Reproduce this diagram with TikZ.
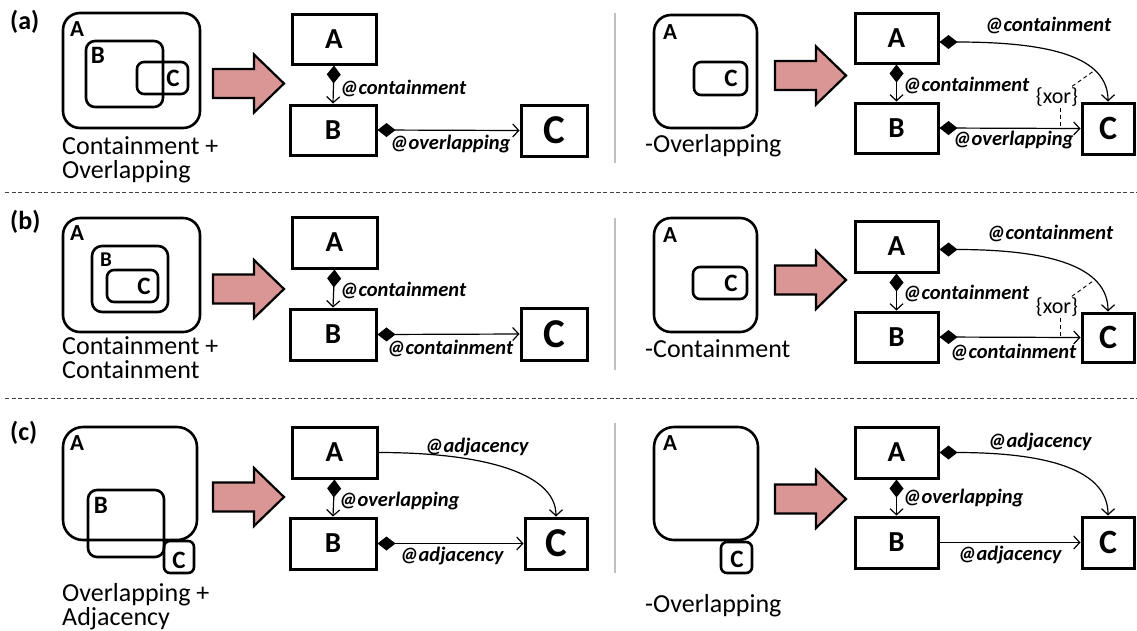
\documentclass[tikz,border=0pt]{standalone}
\usepackage{fontspec}
\setmainfont{Carlito}
\usetikzlibrary{arrows.meta}
\definecolor{pinkfill}{RGB}{217,150,148}
\newcommand{\pinkarrow}[2]{%
  \draw[line width=2.2pt, fill=pinkfill, line join=miter]
    (#1,#2-14.5) -- (#1+41,#2-14.5) -- (#1+41,#2-29) -- (#1+71,#2)
    -- (#1+41,#2+29) -- (#1+41,#2+14.5) -- (#1,#2+14.5) -- cycle;}
\tikzset{
  cont/.style={draw, line width=2.6pt},
  cletA/.style={font=\bfseries\fontsize{23}{23}\selectfont, inner sep=0},
  clet/.style={font=\bfseries\fontsize{25}{25}\selectfont, inner sep=0},
  cletS/.style={font=\bfseries\fontsize{21}{21}\selectfont, inner sep=0},
  box/.style={draw, line width=3pt, inner sep=0, font=\bfseries\fontsize{29}{29}\selectfont},
  bigC/.style={font=\bfseries\fontsize{41}{41}\selectfont},
  midC/.style={font=\bfseries\fontsize{34}{34}\selectfont},
  elab/.style={font=\bfseries\itshape\fontsize{20.5}{20.5}\selectfont, anchor=west, inner sep=0},
  capt/.style={font=\fontsize{26}{24}\selectfont, align=left, anchor=north west, inner sep=0},
  tag/.style={font=\bfseries\fontsize{26}{26}\selectfont, anchor=north west, inner sep=0},
  xorlab/.style={font=\fontsize{22}{22}\selectfont, inner sep=1pt},
  dia/.style={line width=1.2pt, {Diamond[length=18pt,width=14pt]}-{Straight Barb[length=6pt,width=13pt]}},
  plain/.style={line width=1.2pt, -{Straight Barb[length=6pt,width=13pt]}},
  sep/.style={line width=1pt, draw=black!75, dash pattern=on 4pt off 2.5pt},
  vsep/.style={line width=1.5pt, draw=black!25},
  xordash/.style={line width=0.9pt, dash pattern=on 4pt off 3pt}
}
\begin{document}
\begin{tikzpicture}[x=1pt,y=-1pt]
\useasboundingbox (0,0) rectangle (1137,630);

% separators
\draw[sep] (5,192) -- (1137,192);
\draw[sep] (5,398) -- (1137,398);
\draw[vsep] (615,13) -- (615,163);
\draw[vsep] (615,218) -- (615,370);
\draw[vsep] (615,423) -- (615,573);

% tags
\node[tag] (ta) at (10,10) {(a)};
\node[tag] (tb) at (10,210) {(b)};
\node[tag] (tc) at (10,421) {(c)};

%%%%%%%%%%%%%%%% ROW A %%%%%%%%%%%%%%%%
\draw[cont, rounded corners=17pt] (63,13) rectangle (200,128);
\draw[cont, rounded corners=9pt] (86,41) rectangle (163,107);
\draw[cont, rounded corners=7pt] (137,62) rectangle (188,94);
\node[cletA] (laA) at (77,29) {A};
\node[clet] (laB) at (98,55) {B};
\node[clet] (laC) at (173,78) {C};
\node[capt] (capa) at (62,136) {Containment +\\Overlapping};
\pinkarrow{213}{83.5}

\node[box, minimum width=84pt, minimum height=50pt] (a1A) at (334,39) {A};
\node[box, minimum width=86pt, minimum height=50pt] (a1B) at (333,130) {B};
\node[box, bigC, minimum width=66pt, minimum height=51pt] (a1C) at (554,130.5) {C};
\draw[dia] (a1A.south) -- (a1B.north);
\draw[dia] (a1B.east) -- (a1C.west);
\node[elab] (a1l1) at (340,88) {@containment};
\node[elab] (a1l2) at (390,144) {@overlapping};

\draw[cont, rounded corners=17pt] (654,15) rectangle (757,128);
\draw[cont, rounded corners=7pt] (694,62) rectangle (747,95);
\node[cletA] (raA) at (670,32) {A};
\node[clet] (raC) at (731,78) {C};
\node[capt] (capra) at (645,134) {-Overlapping};
\pinkarrow{775}{75.5}

\node[box, minimum width=83pt, minimum height=50pt] (a2A) at (896.5,38) {A};
\node[box, minimum width=83pt, minimum height=50pt] (a2B) at (896.5,128) {B};
\node[box, midC, minimum width=52pt, minimum height=51pt] (a2C) at (1108,128.5) {C};
\draw[dia] (a2A.south) -- (a2B.north);
\draw[dia] (a2B.east) -- coordinate[pos=0.86] (a2p) (a2C.west);
\draw[dia] ([yshift=-4pt]a2A.east) .. controls +(110,0) and +(0,-45) .. coordinate[pos=0.72] (a2q) (a2C.north);
\node[elab] (a2l0) at (985,25) {@containment};
\node[elab] (a2l1) at (903,85) {@containment};
\node[elab] (a2l2) at (953,140) {@overlapping};
\node[xorlab] (a2x) at (1057,97) {\{xor\}};
\draw[xordash] (a2x) -- (a2q);
\draw[xordash] (a2x.south -| a2p) -- (a2p);

%%%%%%%%%%%%%%%% ROW B %%%%%%%%%%%%%%%%
\draw[cont, rounded corners=17pt] (63,218) rectangle (200,332);
\draw[cont, rounded corners=10pt] (92,246) rectangle (168,312);
\draw[cont, rounded corners=7pt] (107,270) rectangle (158,302);
\node[cletA] (lbA) at (77,233) {A};
\node[cletS] (lbB) at (106,260) {B};
\node[clet] (lbC) at (144,286) {C};
\node[capt] (capb) at (62,336) {Containment +\\Containment};
\pinkarrow{213}{289}

\node[box, minimum width=85pt, minimum height=51pt] (b1A) at (334.5,242.5) {A};
\node[box, minimum width=86pt, minimum height=51pt] (b1B) at (333,334.5) {B};
\node[box, bigC, minimum width=66pt, minimum height=52pt] (b1C) at (554,334) {C};
\draw[dia] (b1A.south) -- (b1B.north);
\draw[dia] (b1B.east) -- (b1C.west);
\node[elab] (b1l1) at (340,290) {@containment};
\node[elab] (b1l2) at (387,348) {@containment};

\draw[cont, rounded corners=17pt] (654,218) rectangle (757,332);
\draw[cont, rounded corners=7pt] (693,267) rectangle (747,299);
\node[cletA] (rbA) at (670,235) {A};
\node[clet] (rbC) at (731,283) {C};
\node[capt] (caprb) at (645,339) {-Containment};
\pinkarrow{775}{280}

\node[box, minimum width=83pt, minimum height=51pt] (b2A) at (896.5,246.5) {A};
\node[box, minimum width=83pt, minimum height=50pt] (b2B) at (896.5,337) {B};
\node[box, midC, minimum width=52pt, minimum height=49pt] (b2C) at (1108,337.5) {C};
\draw[dia] (b2A.south) -- (b2B.north);
\draw[dia] (b2B.east) -- coordinate[pos=0.86] (b2p) (b2C.west);
\draw[dia] ([yshift=-3pt]b2A.east) .. controls +(110,0) and +(0,-45) .. coordinate[pos=0.72] (b2q) (b2C.north);
\node[elab] (b2l0) at (987,233) {@containment};
\node[elab] (b2l1) at (903,293) {@containment};
\node[elab] (b2l2) at (950,352) {@containment};
\node[xorlab] (b2x) at (1057,307) {\{xor\}};
\draw[xordash] (b2x) -- (b2q);
\draw[xordash] (b2x.south -| b2p) -- (b2p);

%%%%%%%%%%%%%%%% ROW C %%%%%%%%%%%%%%%%
\draw[cont, rounded corners=20pt] (63,427) rectangle (197,540);
\draw[cont, rounded corners=9pt] (88,490) rectangle (164,557);
\draw[cont, rounded corners=6pt] (164,541) rectangle (194,573);
\node[cletA] (lcA) at (77,443) {A};
\node[clet] (lcB) at (101,505) {B};
\node[clet] (lcC) at (179,560) {C};
\node[capt] (capc) at (62,583) {Overlapping +\\Adjacency};
\pinkarrow{213}{497}

\node[box, minimum width=85pt, minimum height=51pt] (c1A) at (334.5,452.5) {A};
\node[box, minimum width=86pt, minimum height=51pt] (c1B) at (333,543.5) {B};
\node[box, bigC, minimum width=62pt, minimum height=51pt] (c1C) at (556,543.5) {C};
\draw[dia] (c1A.south) -- (c1B.north);
\draw[dia] (c1B.east) -- (c1C.west);
\draw[plain] (c1A.east) .. controls +(100,0) and +(0,-45) .. (c1C.north);
\node[elab] (c1l0) at (425,447) {@adjacency};
\node[elab] (c1l1) at (339,501) {@overlapping};
\node[elab] (c1l2) at (400,556) {@adjacency};

\draw[cont, rounded corners=20pt] (654,427) rectangle (758,540);
\draw[cont, rounded corners=6pt] (721,542) rectangle (752,573);
\node[cletA] (rcA) at (670,443) {A};
\node[clet] (rcC) at (737,559) {C};
\node[capt] (caprc) at (645,594) {-Overlapping};
\pinkarrow{775}{499}

\node[box, minimum width=83pt, minimum height=51pt] (c2A) at (896.5,452.5) {A};
\node[box, minimum width=83pt, minimum height=51pt] (c2B) at (896.5,542.5) {B};
\node[box, midC, minimum width=52pt, minimum height=51pt] (c2C) at (1108,542.5) {C};
\draw[dia] (c2A.south) -- (c2B.north);
\draw[plain] (c2B.east) -- (c2C.west);
\draw[dia] (c2A.east) .. controls +(110,0) and +(0,-45) .. (c2C.north);
\node[elab] (c2l0) at (988,442) {@adjacency};
\node[elab] (c2l1) at (903,498) {@overlapping};
\node[elab] (c2l2) at (958,555) {@adjacency};
\end{tikzpicture}
\end{document}
